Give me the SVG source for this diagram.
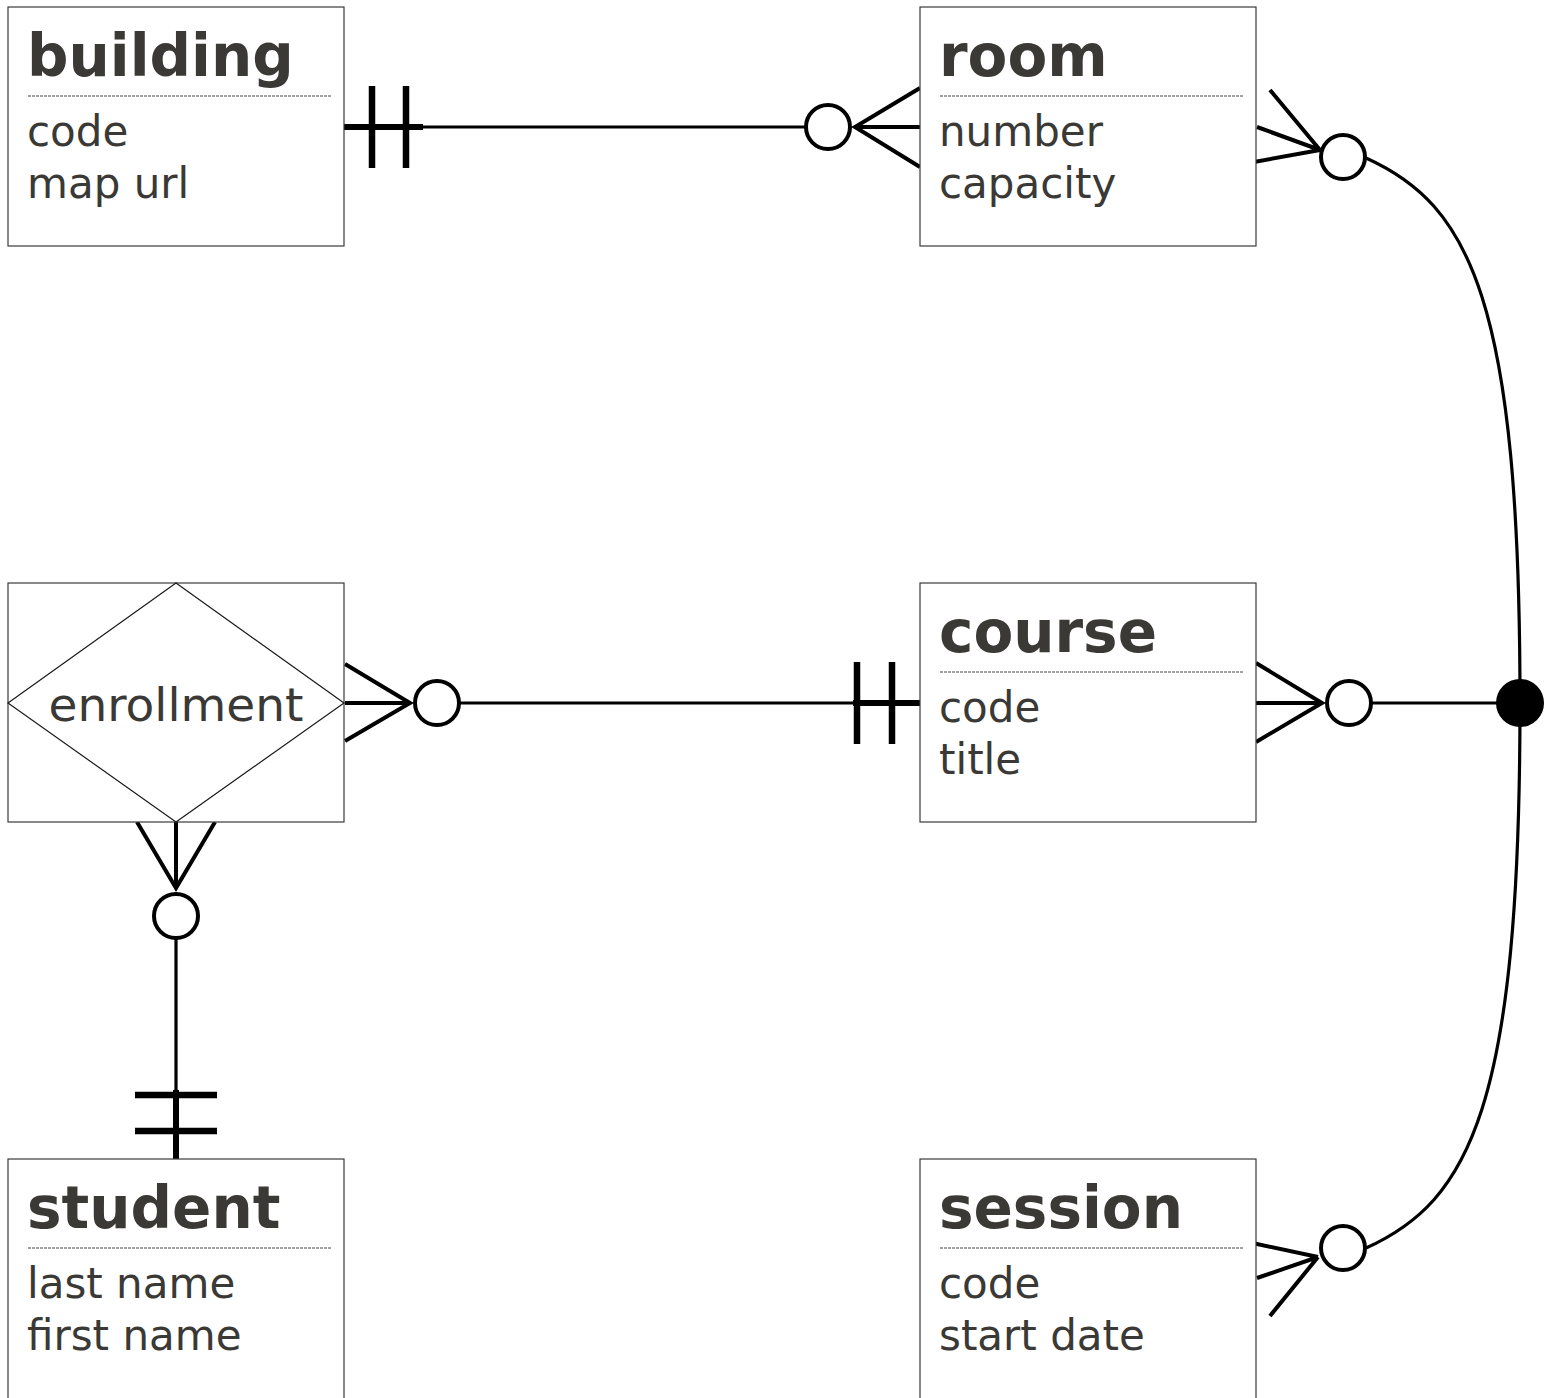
<svg xmlns="http://www.w3.org/2000/svg" width="1551" height="1398" viewBox="0 0 1551 1398">
  <style>
    .box { fill: #ffffff; stroke: #3a3a3a; stroke-width: 1.2; }
    .diamond { fill: none; stroke: #1a1a1a; stroke-width: 1.2; }
    .title { font-family: "DejaVu Sans", Verdana, sans-serif; font-weight: bold; font-size: 58px; fill: #3a3935; }
    .attr { font-family: "DejaVu Sans", Verdana, sans-serif; font-size: 42px; fill: #3a3935; }
    .rel { font-family: "DejaVu Sans", Verdana, sans-serif; font-size: 47px; fill: #3a3935; text-anchor: middle; }
    .sep { stroke: #444444; stroke-width: 1; stroke-dasharray: 3 1; }
    .line { fill: none; stroke: #000000; stroke-width: 3.2; }
    .thick { fill: none; stroke: #000000; stroke-width: 6; }
    .foot { fill: none; stroke: #000000; stroke-width: 4; stroke-linecap: butt; }
    .bar { stroke: #000000; stroke-width: 6.5; }
    .ring { fill: #ffffff; stroke: #000000; stroke-width: 4; }
    .dot { fill: #000000; stroke: none; }
  </style>

  <!-- connectors -->
  <g id="connectors">
    <!-- building (exactly one) to room (zero or many) -->
    <g id="building-room">
      <line class="line" x1="420" y1="127" x2="806" y2="127"/>
      <line class="thick" x1="344" y1="127" x2="423" y2="127"/>
      <line class="bar" x1="372" y1="86" x2="372" y2="168"/>
      <line class="bar" x1="406" y1="86" x2="406" y2="168"/>
      <path class="foot" d="M920,88 L855,127 L920,167 M855,127 L920,127"/>
      <circle class="ring" cx="828" cy="127" r="22"/>
    </g>

    <!-- enrollment (zero or many) to course (exactly one) -->
    <g id="enrollment-course">
      <line class="line" x1="459" y1="703" x2="855" y2="703"/>
      <line class="thick" x1="853" y1="703" x2="920" y2="703"/>
      <line class="bar" x1="857" y1="662" x2="857" y2="744"/>
      <line class="bar" x1="892" y1="662" x2="892" y2="744"/>
      <path class="foot" d="M345,664 L410,703 L345,741 M345,703 L410,703"/>
      <circle class="ring" cx="437" cy="703" r="22"/>
    </g>

    <!-- enrollment (zero or many) to student (exactly one) -->
    <g id="enrollment-student">
      <line class="line" x1="176" y1="938" x2="176" y2="1092"/>
      <line class="thick" x1="176" y1="1090" x2="176" y2="1159"/>
      <line class="bar" x1="135" y1="1095" x2="217" y2="1095"/>
      <line class="bar" x1="135" y1="1131" x2="217" y2="1131"/>
      <path class="foot" d="M137,822 L176,888 L215,822 M176,822 L176,888"/>
      <circle class="ring" cx="176" cy="916" r="22"/>
    </g>

    <!-- ternary link: room, course and session meet at a junction -->
    <g id="room-course-session">
      <path class="line" d="M1366,158 C1470,205 1520,300 1520,703 C1520,1106 1470,1201 1366,1248"/>
      <line class="line" x1="1371" y1="703" x2="1520" y2="703"/>
      <!-- room end -->
      <path class="foot" d="M1270,90 L1320,150 M1257,127 L1320,150 M1243,164 L1320,150"/>
      <circle class="ring" cx="1343" cy="157" r="22"/>
      <!-- course end -->
      <path class="foot" d="M1256,663 L1322,703 L1256,742 M1256,703 L1322,703"/>
      <circle class="ring" cx="1349" cy="703" r="22"/>
      <!-- session end -->
      <path class="foot" d="M1243,1241 L1318,1257 M1257,1278 L1318,1257 M1270,1316 L1318,1257"/>
      <circle class="ring" cx="1343" cy="1248" r="22"/>
      <circle class="dot" cx="1520" cy="703" r="24"/>
    </g>
  </g>

  <!-- entities -->
  <g id="building">
    <rect class="box" x="8" y="7" width="336" height="239"/>
    <text class="title" x="27" y="76">building</text>
    <line class="sep" x1="28" y1="96" x2="332" y2="96"/>
    <text class="attr" x="27" y="146">code</text>
    <text class="attr" x="27" y="198">map url</text>
  </g>

  <g id="room">
    <rect class="box" x="920" y="7" width="336" height="239"/>
    <text class="title" x="939" y="76">room</text>
    <line class="sep" x1="940" y1="96" x2="1244" y2="96"/>
    <text class="attr" x="939" y="146">number</text>
    <text class="attr" x="939" y="198">capacity</text>
  </g>

  <g id="enrollment">
    <rect class="box" x="8" y="583" width="336" height="239"/>
    <polygon class="diamond" points="176,583 344,703 176,822 8,703"/>
    <text class="rel" x="176" y="721">enrollment</text>
  </g>

  <g id="course">
    <rect class="box" x="920" y="583" width="336" height="239"/>
    <text class="title" x="939" y="652">course</text>
    <line class="sep" x1="940" y1="672" x2="1244" y2="672"/>
    <text class="attr" x="939" y="722">code</text>
    <text class="attr" x="939" y="774">title</text>
  </g>

  <g id="student">
    <rect class="box" x="8" y="1159" width="336" height="245"/>
    <text class="title" x="27" y="1228">student</text>
    <line class="sep" x1="28" y1="1248" x2="332" y2="1248"/>
    <text class="attr" x="27" y="1298">last name</text>
    <text class="attr" x="27" y="1350">first name</text>
  </g>

  <g id="session">
    <rect class="box" x="920" y="1159" width="336" height="245"/>
    <text class="title" x="939" y="1228">session</text>
    <line class="sep" x1="940" y1="1248" x2="1244" y2="1248"/>
    <text class="attr" x="939" y="1298">code</text>
    <text class="attr" x="939" y="1350">start date</text>
  </g>
</svg>
